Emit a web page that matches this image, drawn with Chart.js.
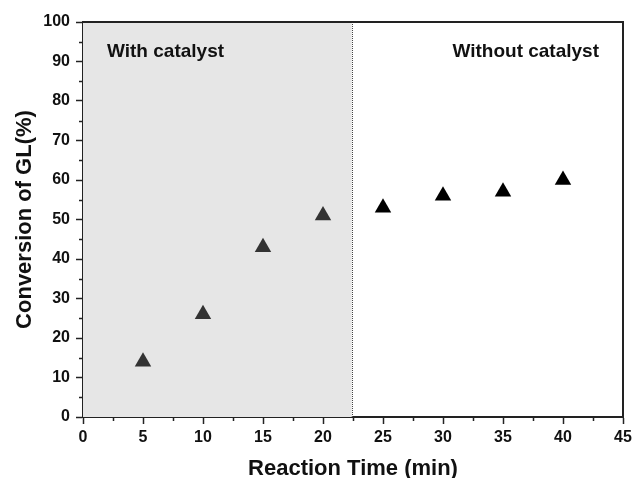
<!DOCTYPE html>
<html>
<head>
<meta charset="utf-8">
<style>
  html, body { margin: 0; padding: 0; background: #fff; }
  #wrap { width: 637px; height: 478px; }
</style>
<script src="https://cdn.jsdelivr.net/npm/chart.js@4/dist/chart.umd.min.js"></script>
</head>
<body>
<div id="wrap"><canvas id="c" width="637" height="478"></canvas></div>
<script>
// Reaction time (min) and GL conversion (%)
const timeWithCatalyst = [5, 10, 15, 20];
const convWithCatalyst = [14, 26, 43, 51];
const timeWithoutCatalyst = [25, 30, 35, 40];
const convWithoutCatalyst = [53, 56, 57, 60];

// Boundary between the two stages (min)
const catalystEnd = 22.4;

const xTitle = 'Reaction Time (min)';
const yTitle = 'Conversion of GL(%)';
const regionLabels = ['With catalyst', 'Without catalyst'];

const FONT = '"Liberation Sans", Arial, Helvetica, sans-serif';

function toPoints(xs, ys) {
  return xs.map((x, i) => ({ x: x, y: ys[i] }));
}

// Shaded stage, divider, frame, minor ticks and stage labels
const decor = {
  id: 'decor',
  beforeDatasetsDraw(chart) {
    const { ctx, chartArea: a, scales: { x, y } } = chart;
    const xe = x.getPixelForValue(catalystEnd);
    ctx.save();
    ctx.fillStyle = '#e6e6e6';
    ctx.fillRect(a.left, a.top, xe - a.left, a.bottom - a.top);
    ctx.strokeStyle = '#444';
    ctx.lineWidth = 1;
    ctx.setLineDash([1, 1]);
    ctx.beginPath();
    ctx.moveTo(Math.round(xe) + 0.5, a.top);
    ctx.lineTo(Math.round(xe) + 0.5, a.bottom);
    ctx.stroke();
    ctx.setLineDash([]);

    ctx.fillStyle = '#111';
    ctx.font = 'bold 19px ' + FONT;
    ctx.textBaseline = 'middle';
    ctx.textAlign = 'left';
    ctx.fillText(regionLabels[0], x.getPixelForValue(2), y.getPixelForValue(92.5));
    ctx.textAlign = 'right';
    ctx.fillText(regionLabels[1], x.getPixelForValue(43), y.getPixelForValue(92.5));
    ctx.restore();
  },
  afterDraw(chart) {
    const { ctx, chartArea: a, scales: { x, y } } = chart;
    ctx.save();
    ctx.strokeStyle = '#222';
    ctx.lineWidth = 2;
    ctx.beginPath();
    ctx.moveTo(a.left, a.top);
    ctx.lineTo(a.right, a.top);
    ctx.lineTo(a.right, a.bottom);
    ctx.stroke();
    // minor ticks
    ctx.lineWidth = 1.5;
    ctx.beginPath();
    for (let v = 2.5; v < 45; v += 5) {
      const px = Math.round(x.getPixelForValue(v)) + 0.5;
      ctx.moveTo(px, a.bottom);
      ctx.lineTo(px, a.bottom + 4);
    }
    for (let v = 5; v < 100; v += 10) {
      const py = Math.round(y.getPixelForValue(v)) + 0.5;
      ctx.moveTo(a.left, py);
      ctx.lineTo(a.left - 4, py);
    }
    ctx.stroke();
    ctx.restore();
  }
};

new Chart(document.getElementById('c'), {
  type: 'scatter',
  data: {
    datasets: [
      {
        label: regionLabels[0],
        data: toPoints(timeWithCatalyst, convWithCatalyst),
        pointStyle: 'triangle',
        radius: 9.5,
        hoverRadius: 9.5,
        backgroundColor: '#333333',
        borderColor: '#333333',
        borderWidth: 0
      },
      {
        label: regionLabels[1],
        data: toPoints(timeWithoutCatalyst, convWithoutCatalyst),
        pointStyle: 'triangle',
        radius: 9.5,
        hoverRadius: 9.5,
        backgroundColor: '#000000',
        borderColor: '#000000',
        borderWidth: 0
      }
    ]
  },
  options: {
    responsive: false,
    animation: false,
    layout: { padding: { left: 0, top: 22, right: 14, bottom: 0 } },
    plugins: { legend: { display: false }, tooltip: { enabled: false } },
    scales: {
      x: {
        type: 'linear',
        min: 0, max: 45,
        afterFit(s) { s.height = 61; },
        border: { display: true, color: '#222', width: 2 },
        grid: { drawOnChartArea: false, tickLength: 7, tickWidth: 1.5, tickColor: '#222' },
        ticks: {
          stepSize: 5, padding: 4, color: '#111',
          font: { family: FONT, size: 16, weight: 'bold' },
          maxRotation: 0
        },
        title: {
          display: true, text: xTitle, color: '#111',
          font: { family: FONT, size: 22, weight: 'bold', lineHeight: 0.8 },
          padding: { top: 0, bottom: 0 }
        }
      },
      y: {
        type: 'linear',
        min: 0, max: 100,
        afterFit(s) { s.width = 83; },
        border: { display: true, color: '#222', width: 2 },
        grid: { drawOnChartArea: false, tickLength: 7, tickWidth: 1.5, tickColor: '#222' },
        ticks: {
          stepSize: 10, padding: 6, color: '#111',
          font: { family: FONT, size: 16, weight: 'bold' }
        },
        title: {
          display: true, text: yTitle, color: '#111',
          font: { family: FONT, size: 22, weight: 'bold', lineHeight: 0.8 },
          padding: { top: 16, bottom: 0 }
        }
      }
    }
  },
  plugins: [decor]
});
</script>
</body>
</html>
